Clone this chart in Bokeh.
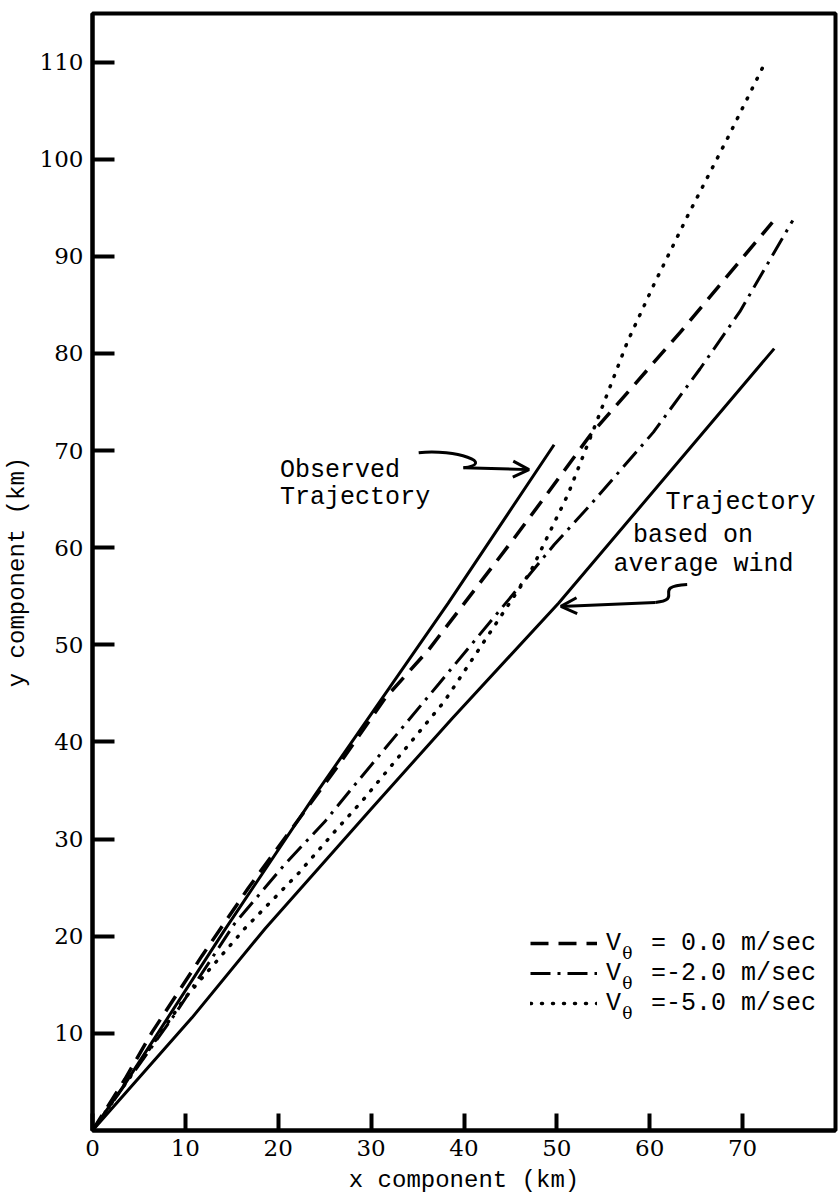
from bokeh.plotting import figure
from bokeh.models import Range1d, FixedTicker, Label, Arrow, OpenHead, Legend, LegendItem
from bokeh.embed import file_html
from bokeh.resources import INLINE

# ---- data (km) ----
avg_x = [0, 10.7, 18.6, 30.0, 38.7, 50.2, 73.4]
avg_y = [0, 11.6, 20.8, 33.1, 42.4, 54.3, 80.5]

obs_x = [0, 3.5, 14.2, 24.0, 38.3, 49.7]
obs_y = [0, 4.8, 20.6, 34.6, 54.3, 70.6]

v0_x = [0, 3.5, 6.4, 11.8, 16.8, 26.4, 31.5, 36.2, 45.1, 49.0, 53.6, 63.3, 73.2]
v0_y = [0, 5.3, 10.1, 18.0, 25.0, 37.5, 44.5, 49.5, 60.6, 65.6, 71.6, 82.2, 93.5]

v2_x = [0, 8.9, 15.3, 20.7, 25.1, 28.6, 37.3, 45.8, 49.7, 53.6, 60.4, 65.4, 69.7, 75.4]
v2_y = [0, 12.0, 21.3, 27.4, 31.9, 36.0, 46.0, 55.8, 60.3, 64.4, 71.9, 78.4, 84.3, 93.7]

v5_x = [0, 10.0, 16.4, 22.2, 26.1, 29.2, 37.9, 47.2, 51.2, 54.0, 57.6, 60.4, 64.1, 68.4, 72.5]
v5_y = [0, 13.7, 20.8, 26.5, 30.8, 34.1, 44.2, 57.6, 65.5, 72.3, 81.2, 87.0, 94.2, 102.2, 110.1]

x_ticks = [0, 10, 20, 30, 40, 50, 60, 70]
y_ticks = [10, 20, 30, 40, 50, 60, 70, 80, 90, 100, 110]

legend_labels = ["V  = 0.0 m/sec", "V  =-2.0 m/sec", "V  =-5.0 m/sec"]

MONO = "Liberation Mono"
SERIF = "DejaVu Serif"

p = figure(width=839, height=1196, output_backend="svg", toolbar_location=None,
           x_range=Range1d(0, 80), y_range=Range1d(0, 115),
           min_border_left=89, min_border_right=4, min_border_top=13,
           min_border_bottom=66)
p.grid.visible = False
p.outline_line_color = "black"
p.outline_line_width = 4
p.background_fill_color = "white"
p.border_fill_color = "white"

for ax in (p.xaxis, p.yaxis):
    ax.axis_line_width = 4
    ax.axis_line_color = "black"
    ax.major_tick_out = 0
    ax.major_tick_line_width = 4
    ax.major_tick_line_color = "black"
    ax.minor_tick_line_color = None
    ax.major_label_text_font = SERIF
    ax.major_label_text_font_size = "23px"
    ax.major_label_text_color = "black"
    ax.axis_label_text_font = MONO
    ax.axis_label_text_font_size = "24px"
    ax.axis_label_text_font_style = "normal"
    ax.axis_label_text_color = "black"

p.xaxis.ticker = FixedTicker(ticks=x_ticks)
p.yaxis.ticker = FixedTicker(ticks=y_ticks)
p.xaxis.major_tick_in = 17
p.yaxis.major_tick_in = 22
p.xaxis.major_label_standoff = 9
p.yaxis.major_label_standoff = 9
p.xaxis.axis_label = "x component (km)"
p.yaxis.axis_label = "y component (km)"
p.xaxis.axis_label_standoff = 8
p.yaxis.axis_label_standoff = 6

p.line(avg_x, avg_y, line_width=3, line_color="black")
p.line(obs_x, obs_y, line_width=3, line_color="black")
r0 = p.line(v0_x, v0_y, line_width=3.5, line_color="black", line_dash="18 10")
r2 = p.line(v2_x, v2_y, line_width=3, line_color="black", line_dash="20 7 3 7")
r5 = p.line(v5_x, v5_y, line_width=3.5, line_color="black", line_dash="1 10",
            line_cap="round")

legend = Legend(items=[LegendItem(label=legend_labels[0], renderers=[r0]),
                       LegendItem(label=legend_labels[1], renderers=[r2]),
                       LegendItem(label=legend_labels[2], renderers=[r5])],
                location=(438, 112), glyph_width=67, glyph_height=30,
                label_height=30, spacing=0, padding=0, margin=0,
                label_standoff=9, border_line_alpha=0, background_fill_alpha=0,
                label_text_font=MONO, label_text_font_size="25px",
                label_text_color="black")
p.add_layout(legend, "center")

# subscript theta for legend entries
for yy in (18.3, 15.2, 12.1):
    p.add_layout(Label(x=57.6, y=yy, text="θ", text_font=SERIF,
                       text_font_size="17px", text_color="black",
                       text_align="center", text_baseline="alphabetic"))

def txt(x, y, s):
    p.add_layout(Label(x=x, y=y, text=s, text_font=MONO, text_font_size="25px",
                       text_color="black", text_baseline="alphabetic"))

txt(20.2, 68.0, "Observed")
txt(20.2, 65.2, "Trajectory")
txt(61.7, 64.7, "Trajectory")
txt(58.2, 61.3, "based on")
txt(56.1, 58.3, "average wind")

# squiggly arrows
p.bezier(x0=35.12, y0=69.78, x1=39.94, y1=68.24, cx0=39.19, cy0=70.19,
         cx1=43.47, cy1=68.65, line_width=3, line_color="black")
p.add_layout(Arrow(x_start=39.94, y_start=68.24, x_end=47.0, y_end=68.04,
                   line_width=3, line_color="black",
                   end=OpenHead(size=16, line_width=3, line_color="black")))
p.bezier(x0=64.03, y0=56.22, x1=60.6, y1=54.37, cx0=60.06, cy0=56.01,
         cx1=63.81, cy1=54.68, line_width=3, line_color="black")
p.add_layout(Arrow(x_start=60.6, y_start=54.37, x_end=50.43, y_end=53.96,
                   line_width=3, line_color="black",
                   end=OpenHead(size=16, line_width=3, line_color="black")))

open("out.html", "w").write(file_html(p, INLINE))
